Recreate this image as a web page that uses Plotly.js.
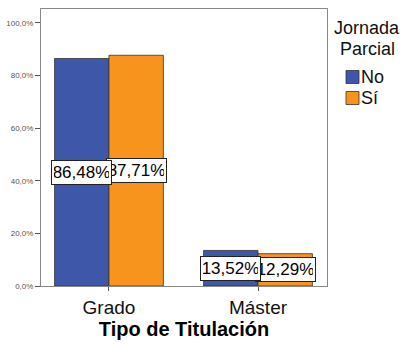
<!DOCTYPE html>
<html>
<head>
<meta charset="utf-8">
<script src="https://cdn.plot.ly/plotly-3.0.1.min.js"></script>
<style>html,body{margin:0;padding:0;background:#fff;}#chart{width:406px;height:345px;}</style>
</head>
<body>
<div id="chart"></div>
<script>
const categories = ['Grado', 'Máster'];
const seriesNames = ['No', 'Sí'];
const valuesNo = [86.48, 13.52];
const valuesSi = [87.71, 12.29];
const seriesColors = ['#3e57a9', '#f7941e'];
const yTickVals = [0, 20, 40, 60, 80, 100];
const yTickText = ['0,0%', '20,0%', '40,0%', '60,0%', '80,0%', '100,0%'];
const legendTitleLines = ['Jornada', 'Parcial'];

const seriesValues = [valuesNo, valuesSi];
const bargap = 0.27;
const barW = (1 - bargap) / 2;

// plot-area geometry (pixels) for placing the hand-made legend
const M = {l: 41, r: 79, t: 9, b: 59};
const W = 406, H = 345;
const pw = W - M.l - M.r, ph = H - M.t - M.b;
const px = x => (x - M.l) / pw;
const py = y => (H - M.b - y) / ph;

const traces = seriesValues.map((vals, i) => ({
  type: 'bar',
  name: seriesNames[i],
  x: categories,
  y: vals,
  marker: {color: seriesColors[i], line: {color: '#333333', width: 0.8}},
  hoverinfo: 'none',
  showlegend: false
}));

function fmt(v) { return v.toFixed(2).replace('.', ',') + '%'; }

const annotations = [];
// draw second series' labels first so the first series' boxes sit on top
for (let i = seriesValues.length - 1; i >= 0; i--) {
  const vals = seriesValues[i];
  const off = (i - 0.5) * barW;
  vals.forEach((v, j) => {
    annotations.push({
      xref: 'x', yref: 'y',
      x: j + off, y: v / 2,
      text: fmt(v),
      showarrow: false,
      font: {family: 'Arial, Liberation Sans, sans-serif', size: 17, color: '#000'},
      bgcolor: '#ffffff',
      bordercolor: '#222222',
      borderwidth: 1,
      borderpad: 2,
      width: 55
    });
  });
}

// legend title (two centred lines)
legendTitleLines.forEach((t, k) => {
  annotations.push({
    xref: 'paper', yref: 'paper',
    x: px(367), y: py(28 + k * 20.5), xanchor: 'center', yanchor: 'middle',
    text: t, showarrow: false,
    font: {size: 18, color: '#111'}
  });
});
// legend entries
const shapes = [];
seriesNames.forEach((name, i) => {
  const cy = 77 + i * 21;
  shapes.push({
    type: 'rect', xref: 'paper', yref: 'paper',
    x0: px(346), x1: px(359), y0: py(cy + 6.5), y1: py(cy - 6.5),
    fillcolor: seriesColors[i], line: {color: '#333', width: 0.8}
  });
  annotations.push({
    xref: 'paper', yref: 'paper',
    x: px(359.5), y: py(cy), xanchor: 'left', yanchor: 'middle',
    text: name, showarrow: false,
    font: {size: 18, color: '#111'}
  });
});

const layout = {
  width: W, height: H,
  margin: M,
  paper_bgcolor: '#fff', plot_bgcolor: '#fff',
  barmode: 'group',
  bargap: bargap,
  bargroupgap: 0,
  font: {family: 'Arial, Liberation Sans, sans-serif', color: '#000'},
  xaxis: {
    type: 'category',
    range: [-0.456, 1.463],
    showline: true, linecolor: '#888', linewidth: 1, mirror: true,
    ticks: 'outside', ticklen: 4, tickcolor: '#555',
    tickfont: {size: 19, color: '#111'},
    showgrid: false, zeroline: false,
    title: {text: '<b>Tipo de Titulación</b>', font: {size: 20, color: '#000'}, standoff: 3}
  },
  yaxis: {
    range: [0, 105.3],
    tickvals: yTickVals,
    ticktext: yTickText,
    showline: true, linecolor: '#888', linewidth: 1, mirror: true,
    ticks: 'outside', ticklen: 5, tickcolor: '#555',
    tickfont: {size: 8, color: '#555'},
    showgrid: false, zeroline: false
  },
  showlegend: false,
  shapes: shapes,
  annotations: annotations
};

Plotly.newPlot('chart', traces, layout, {displayModeBar: false, staticPlot: true});
</script>
</body>
</html>
